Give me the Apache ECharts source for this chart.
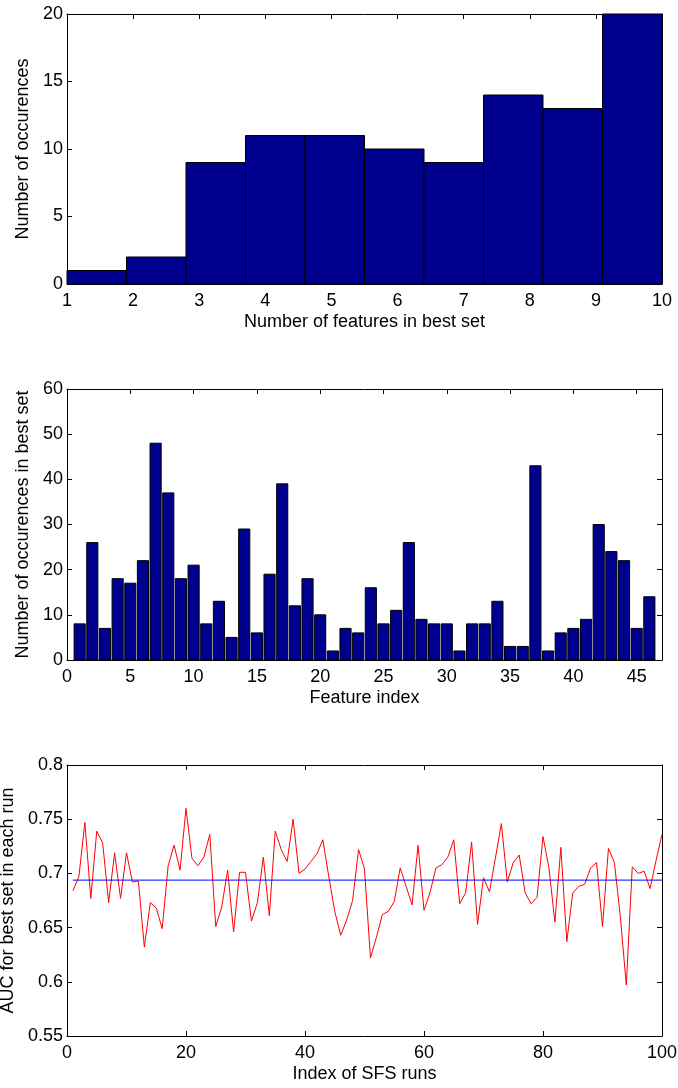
<!DOCTYPE html>
<html>
<head>
<meta charset="utf-8">
<script src="https://cdn.jsdelivr.net/npm/echarts@6/dist/echarts.min.js"></script>
<style>
html,body{margin:0;padding:0;background:#fff;}
#chart{width:678px;height:1088px;}
</style>
</head>
<body>
<div id="chart"></div>
<script>
// ---- Data ----
// Panel 1: histogram of number of features in best set
var histEdges = [1, 1.9, 2.8, 3.7, 4.6, 5.5, 6.4, 7.3, 8.2, 9.1, 10];
var histCounts = [1, 2, 9, 11, 11, 10, 9, 14, 13, 20];

// Panel 2: occurrences of each feature in best set (features 1..46)
var featureCounts = [8, 26, 7, 18, 17, 22, 48, 37, 18, 21, 8, 13, 5, 29, 6, 19, 39, 12, 18, 10,
  2, 7, 6, 16, 8, 11, 26, 9, 8, 8, 2, 8, 8, 13, 3, 3, 43, 2, 6, 7, 9, 30, 24, 22, 7, 14];

// Panel 3: AUC for best set in each of 100 SFS runs
var aucValues = [
  0.684, 0.697, 0.747, 0.677, 0.739, 0.728, 0.673, 0.719, 0.677, 0.719,
  0.692, 0.693, 0.632, 0.673, 0.668, 0.649, 0.707, 0.726, 0.703, 0.760,
  0.714, 0.707, 0.715, 0.736, 0.651, 0.669, 0.703, 0.646, 0.701, 0.701,
  0.656, 0.673, 0.715, 0.661, 0.739, 0.722, 0.711, 0.750, 0.700, 0.704,
  0.711, 0.718, 0.731, 0.697, 0.665, 0.643, 0.657, 0.675, 0.722, 0.704,
  0.622, 0.641, 0.662, 0.665, 0.674, 0.705, 0.688, 0.671, 0.726, 0.666,
  0.682, 0.705, 0.708, 0.715, 0.731, 0.672, 0.682, 0.729, 0.653, 0.696,
  0.683, 0.714, 0.746, 0.692, 0.710, 0.717, 0.682, 0.672, 0.678, 0.734,
  0.705, 0.655, 0.724, 0.637, 0.682, 0.688, 0.690, 0.705, 0.710, 0.651,
  0.723, 0.710, 0.660, 0.597, 0.706, 0.700, 0.702, 0.686, 0.712, 0.736
];
var aucMean = 0.6938;
var aucMeanRange = [1, 100];

// ---- Build series data ----
var histData = histCounts.map(function (c, i) { return [histEdges[i], histEdges[i + 1], c]; });
var featData = featureCounts.map(function (c, i) { return [i + 1, c]; });
var aucData = aucValues.map(function (v, i) { return [i + 1, v]; });
var meanData = aucMeanRange.map(function (x) { return [x, aucMean]; });

var FONT = '"Liberation Sans", Arial, Helvetica, sans-serif';
var FS = 18;
var BAR_FILL = '#00008F';

function baseX(gi, min, max, interval, name, gap) {
  return {
    type: 'value', gridIndex: gi, position: 'bottom', min: min, max: max, interval: interval,
    name: name, nameLocation: 'middle', nameGap: gap,
    nameTextStyle: { color: '#000', fontSize: FS, fontFamily: FONT },
    axisLine: { show: true, onZero: false, lineStyle: { color: '#000', width: 1 } },
    axisTick: { show: true, inside: true, length: 5, lineStyle: { color: '#000' } },
    axisLabel: { color: '#000', fontSize: FS, fontFamily: FONT, margin: 8 },
    splitLine: { show: false }
  };
}
function topX(gi, min, max, interval) {
  return {
    type: 'value', gridIndex: gi, position: 'top', min: min, max: max, interval: interval,
    axisLine: { show: true, onZero: false, lineStyle: { color: '#000', width: 1 } },
    axisTick: { show: true, inside: true, length: 5, lineStyle: { color: '#000' } },
    axisLabel: { show: false }, splitLine: { show: false }
  };
}
function baseY(gi, min, max, interval, name, gap) {
  return {
    type: 'value', gridIndex: gi, position: 'left', min: min, max: max, interval: interval,
    name: name, nameLocation: 'middle', nameGap: gap,
    nameTextStyle: { color: '#000', fontSize: FS, fontFamily: FONT },
    axisLine: { show: true, onZero: false, lineStyle: { color: '#000', width: 1 } },
    axisTick: { show: true, inside: true, length: 5, lineStyle: { color: '#000' } },
    axisLabel: { color: '#000', fontSize: FS, fontFamily: FONT, margin: 4 },
    splitLine: { show: false }
  };
}
function rightY(gi, min, max, interval) {
  return {
    type: 'value', gridIndex: gi, position: 'right', min: min, max: max, interval: interval,
    axisLine: { show: true, onZero: false, lineStyle: { color: '#000', width: 1 } },
    axisTick: { show: true, inside: true, length: 5, lineStyle: { color: '#000' } },
    axisLabel: { show: false }, splitLine: { show: false }
  };
}

var option = {
  animation: false,
  backgroundColor: '#fff',
  grid: [
    { left: 67, top: 14, width: 595, height: 270, outerBoundsMode: 'none', containLabel: false },
    { left: 67, top: 389, width: 595, height: 271, outerBoundsMode: 'none', containLabel: false },
    { left: 67, top: 765, width: 595, height: 271, outerBoundsMode: 'none', containLabel: false }
  ],
  xAxis: [
    baseX(0, 1, 10, 1, 'Number of features in best set', 29),
    topX(0, 1, 10, 1),
    baseX(1, 0, 47, 5, 'Feature index', 29),
    topX(1, 0, 47, 5),
    baseX(2, 0, 100, 20, 'Index of SFS runs', 29),
    topX(2, 0, 100, 20)
  ],
  yAxis: [
    baseY(0, 0, 20, 5, 'Number of occurences', 35),
    rightY(0, 0, 20, 5),
    baseY(1, 0, 60, 10, 'Number of occurences in best set', 35),
    rightY(1, 0, 60, 10),
    baseY(2, 0.55, 0.8, 0.05, 'AUC for best set in each run', 49),
    rightY(2, 0.55, 0.8, 0.05)
  ],
  series: [
    {
      type: 'custom', xAxisIndex: 0, yAxisIndex: 0, data: histData,
      encode: { x: [0, 1], y: 2 },
      renderItem: function (params, api) {
        var p0 = api.coord([api.value(0), api.value(2)]);
        var p1 = api.coord([api.value(1), 0]);
        return {
          type: 'rect',
          shape: { x: p0[0], y: p0[1], width: p1[0] - p0[0], height: p1[1] - p0[1] },
          style: { fill: BAR_FILL, stroke: '#000', lineWidth: 1 }
        };
      }
    },
    {
      type: 'custom', xAxisIndex: 2, yAxisIndex: 2, data: featData,
      encode: { x: 0, y: 1 },
      renderItem: function (params, api) {
        var half = 0.44;
        var p0 = api.coord([api.value(0) - half, api.value(1)]);
        var p1 = api.coord([api.value(0) + half, 0]);
        return {
          type: 'rect',
          shape: { x: p0[0], y: p0[1], width: p1[0] - p0[0], height: p1[1] - p0[1] },
          style: { fill: BAR_FILL, stroke: '#000', lineWidth: 1 }
        };
      }
    },
    {
      type: 'line', xAxisIndex: 4, yAxisIndex: 4, data: aucData,
      showSymbol: false, symbol: 'none',
      lineStyle: { color: '#FF0000', width: 1 }, itemStyle: { color: '#FF0000' }
    },
    {
      type: 'line', xAxisIndex: 4, yAxisIndex: 4, data: meanData,
      showSymbol: false, symbol: 'none',
      lineStyle: { color: '#0000FF', width: 1 }, itemStyle: { color: '#0000FF' }
    }
  ]
};
option.xAxis[2].axisLabel.showMaxLabel = false;

var chart = echarts.init(document.getElementById('chart'), null, { renderer: 'canvas' });
chart.setOption(option);
</script>
</body>
</html>
